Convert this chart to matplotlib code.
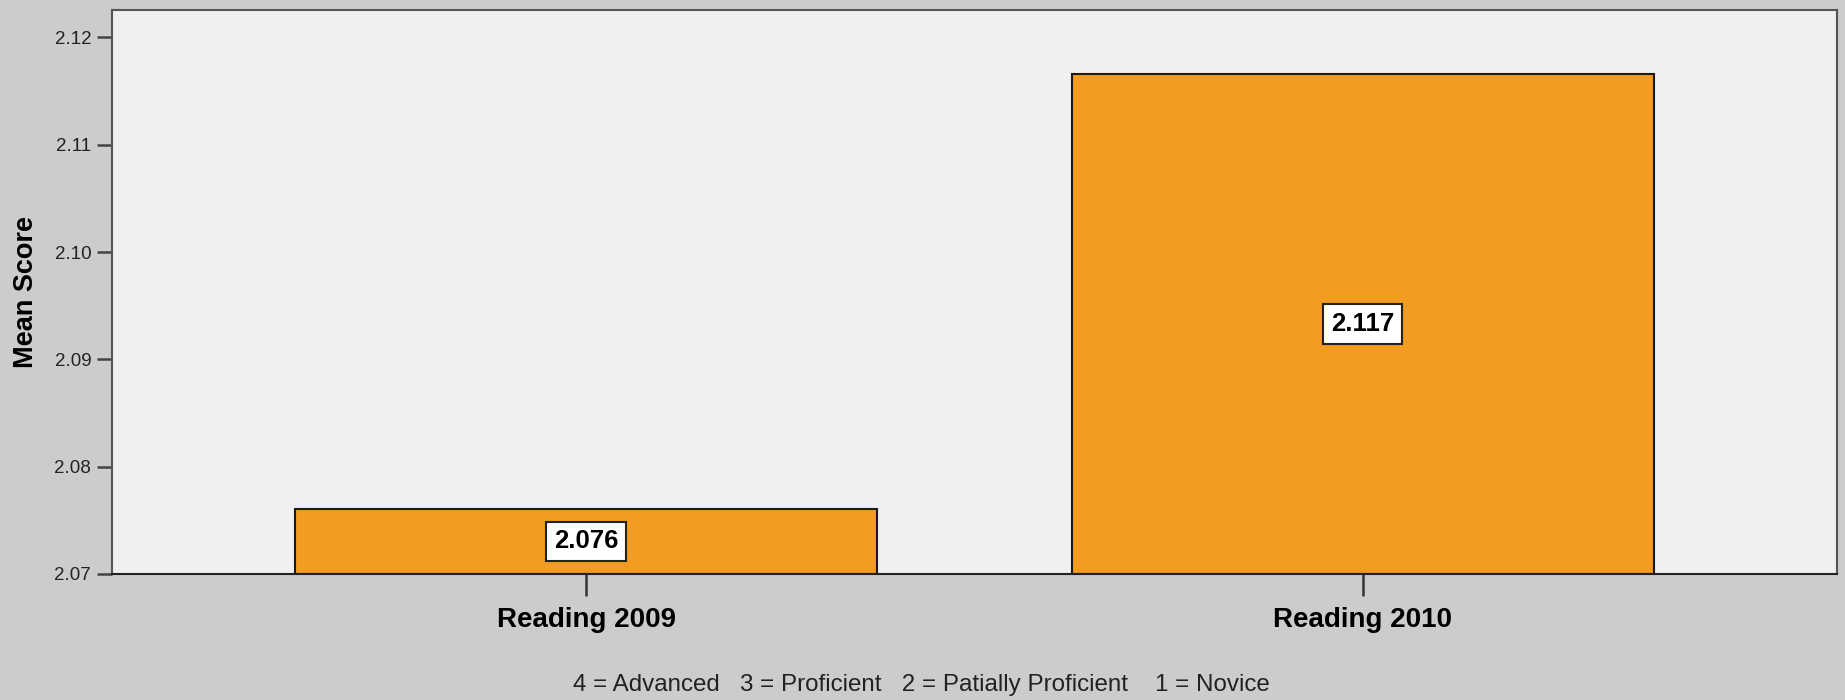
import matplotlib
matplotlib.use("Agg")
import matplotlib.pyplot as plt

categories = ["Reading 2009", "Reading 2010"]
mean_scores = [2.0761, 2.1166]
y_ticks = [2.07, 2.08, 2.09, 2.10, 2.11, 2.12]
y_tick_labels = ["2.07", "2.08", "2.09", "2.10", "2.11", "2.12"]
footnote = "4 = Advanced   3 = Proficient   2 = Patially Proficient    1 = Novice"

plt.rcParams["font.family"] = ["Liberation Sans", "DejaVu Sans"]

fig = plt.figure(figsize=(18.45, 7), dpi=100, facecolor="#cccccc")
ax = fig.add_axes([0.0607, 0.18, 0.9350, 0.8064], facecolor="#f0f0f0")

x = list(range(len(categories)))
ax.bar(x, [v - 2.07 for v in mean_scores], bottom=2.07, width=0.75,
       color="#f39c1f", edgecolor="#1a1a1a", linewidth=1.5, zorder=2)

for xi, v in zip(x, mean_scores):
    ax.text(xi, (2.07 + v) / 2, f"{v:.3f}", ha="center", va="center",
            fontsize=18.5, fontweight="bold", color="black", zorder=3,
            bbox=dict(boxstyle="square,pad=0.3", fc="white", ec="#222222", lw=1.5))

ax.set_xlim(-0.611, 1.611)
ax.set_ylim(2.07, 2.1226)
ax.set_xticks(x)
ax.set_xticklabels(categories, fontsize=20, fontweight="bold")
ax.set_yticks(y_ticks)
ax.set_yticklabels(y_tick_labels, fontsize=13.5, color="#222222")
ax.tick_params(axis="y", length=11, width=1.8, color="#444444", pad=4)
ax.tick_params(axis="x", length=16, width=1.8, color="#333333", pad=8)

fig.text(0.0141, 0.583, "Mean Score", rotation=90, ha="center", va="center",
         fontsize=19.5, fontweight="bold", color="black")

for side in ["left", "top", "right"]:
    ax.spines[side].set_color("#555555")
    ax.spines[side].set_linewidth(1.5)
ax.spines["bottom"].set_color("#222222")
ax.spines["bottom"].set_linewidth(1.5)

fig.text(0.4995, 0.022, footnote, ha="center", va="center", fontsize=17.4, color="#222222")

fig.savefig("out.png", dpi=100, facecolor=fig.get_facecolor())
